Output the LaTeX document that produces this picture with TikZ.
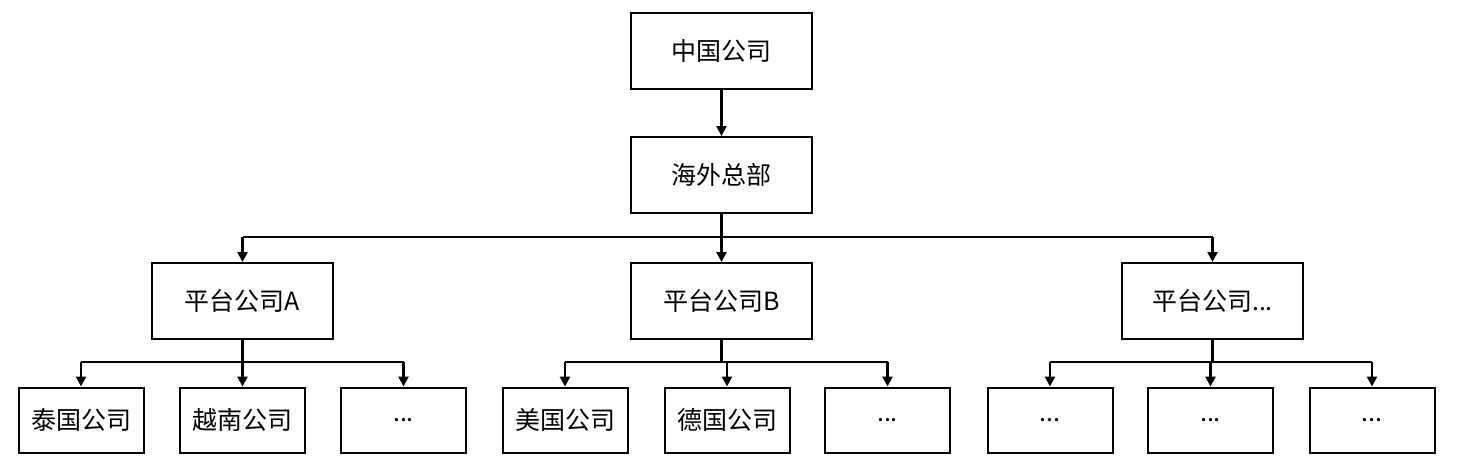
\documentclass[tikz,border=0pt]{standalone}
\usepackage{fontspec}
\newfontfamily\cjk{Noto Sans CJK SC}
\usetikzlibrary{arrows.meta}
\begin{document}
\begin{tikzpicture}[x=1pt,y=-1pt,
  box/.style={draw,line width=2pt,minimum width=181pt,minimum height=76pt,inner sep=0pt,font=\cjk\fontsize{25}{29}\selectfont},
  leaf/.style={draw,line width=2pt,minimum width=125pt,minimum height=65pt,inner sep=0pt,font=\cjk\fontsize{25}{29}\selectfont},
  conn/.style={line width=2.8pt,-{Triangle[length=10pt,width=10pt]}},
  bus/.style={line width=2.8pt}]
\useasboundingbox (0,0) rectangle (1457,464);
\node[box] (cn) at (721.5,50.5) {中国公司};
\node[box] (hq) at (721.5,175) {海外总部};
\node[box] (pa) at (242.5,301) {平台公司A};
\node[box] (pb) at (721.5,301) {平台公司B};
\node[box] (pc) at (1212.5,301) {平台公司...};
\node[leaf] (a1) at (81,420) {泰国公司};
\node[leaf] (a2) at (242.5,420) {越南公司};
\node[leaf] (a3) at (403.5,420) {...};
\node[leaf] (b1) at (565,420) {美国公司};
\node[leaf] (b2) at (727,420) {德国公司};
\node[leaf] (b3) at (887.5,420) {...};
\node[leaf] (c1) at (1050,420) {...};
\node[leaf] (c2) at (1210.5,420) {...};
\node[leaf] (c3) at (1372,420) {...};
\draw[conn] (cn.south) -- (hq.north);
\coordinate (j0) at (hq.south |- 0,237);
\draw[bus] (hq.south) -- (j0);
\draw[bus] (pa.north |- j0) -- (pc.north |- j0);
\foreach \p in {pa,pb,pc}{
  \draw[conn] (\p.north |- j0) -- (\p.north);
}
\foreach \p/\l/\r/\m in {pa/a1/a3/a2,pb/b1/b3/b2,pc/c1/c3/c2}{
  \coordinate (\p j) at (\p.south |- 0,362);
  \draw[bus] (\p.south) -- (\p j);
  \draw[bus] (\l.north |- \p j) -- (\r.north |- \p j);
  \foreach \c in {\l,\m,\r}{
    \draw[conn] (\c.north |- \p j) -- (\c.north);
  }
}
\end{tikzpicture}
\end{document}
